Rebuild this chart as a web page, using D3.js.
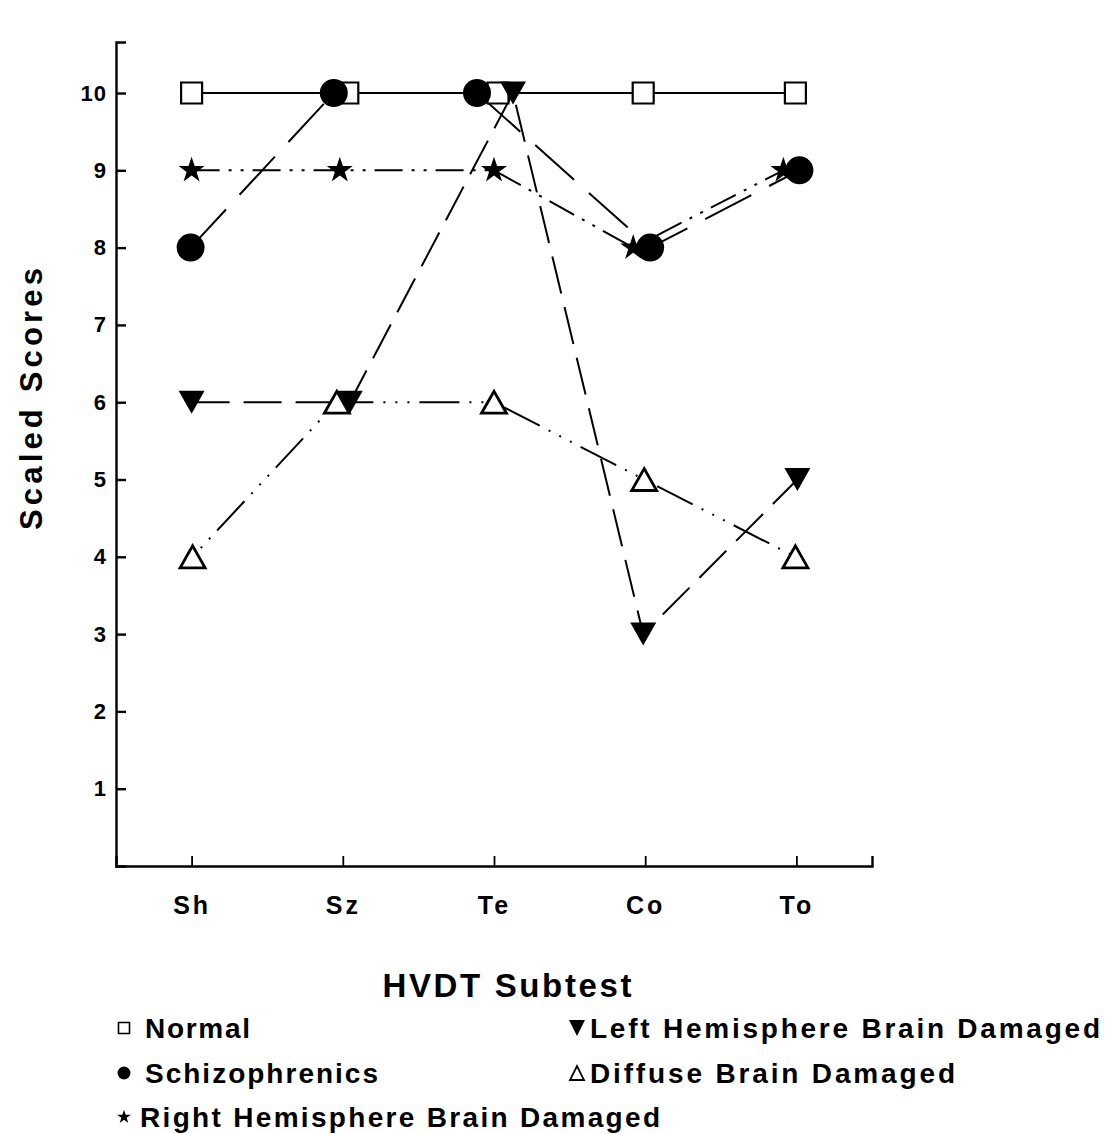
<!DOCTYPE html>
<html>
<head>
<meta charset="utf-8">
<script src="https://cdn.jsdelivr.net/npm/d3@7"></script>
<style>
  body { margin: 0; background: #fff; }
  svg { display: block; }
  text { font-family: "Liberation Sans", Arial, Helvetica, sans-serif; font-weight: bold; fill: #000; }
</style>
</head>
<body>
<div id="chart"></div>
<script>
// data
const categories = ["Sh", "Sz", "Te", "Co", "To"];
const normal = [10, 10, 10, 10, 10];
const schizophrenics = [8, 10, 10, 8, 9];
const rightHemisphere = [9, 9, 9, 8, 9];
const leftHemisphere = [6, 6, 10, 3, 5];
const diffuse = [4, 6, 6, 5, 4];
const yTicks = [1, 2, 3, 4, 5, 6, 7, 8, 9, 10];
const yTitle = "Scaled Scores";
const xTitle = "HVDT Subtest";

const width = 1109, height = 1134;
const margin = {left: 116, right: 237, top: 42, bottom: 268};

const svg = d3.select("#chart").append("svg")
    .attr("width", width)
    .attr("height", height);
svg.append("rect").attr("width", width).attr("height", height).attr("fill", "#fff");

const x = d3.scalePoint()
    .domain(categories)
    .range([margin.left, width - margin.right])
    .padding(0.5);
const y = d3.scaleLinear()
    .domain([0, 10.66])
    .range([height - margin.bottom, margin.top]);

// markers (drawn as paths centred on 0,0)
function square(s) { return "M" + (-s/2) + "," + (-s/2) + "h" + s + "v" + s + "h" + (-s) + "Z"; }
function triDown(w, h) { return "M" + (-w/2) + "," + (-h/2) + "L" + (w/2) + "," + (-h/2) + "L0," + (h/2) + "Z"; }
function triUp(w, h) { return "M" + (-w/2) + "," + (h/2) + "L" + (w/2) + "," + (h/2) + "L0," + (-h/2) + "Z"; }

// small hand nudges the original figure used to keep markers apart (px)
const series = [
  {name: "Normal", values: normal, dash: null, nudge: [0, 5, 4, -2, -1],
   marker: {d: square(21), fill: "#fff", sw: 2.2}, legend: {d: square(11), fill: "#fff", sw: 1.6}},
  {name: "Right Hemisphere Brain Damaged", values: rightHemisphere, dash: "28,9,3,9,3,9", nudge: [0, -3, 0, -12, -13],
   marker: {d: d3.symbol(d3.symbolStar, 210)(), fill: "#000", sw: 0}, legend: {d: d3.symbol(d3.symbolStar, 60)(), fill: "#000", sw: 0}},
  {name: "Schizophrenics", values: schizophrenics, dash: "52,20", nudge: [-1, -9, -17, 5, 3],
   marker: {d: d3.symbol(d3.symbolCircle, 615)(), fill: "#000", sw: 0}, legend: {d: d3.symbol(d3.symbolCircle, 130)(), fill: "#000", sw: 0}},
  {name: "Diffuse Brain Damaged", values: diffuse, dash: "2,10,2,10,2,10,40,10", nudge: [1, -6, 0, -1, -1],
   marker: {d: triUp(25, 22), fill: "#fff", sw: 2.8}, legend: {d: triUp(14, 14), fill: "#fff", sw: 1.8}},
  {name: "Left Hemisphere Brain Damaged", values: leftHemisphere, dash: "38,14", nudge: [0, 7, 19, -2, 1],
   marker: {d: triDown(26, 23), fill: "#000", sw: 0}, legend: {d: triDown(16, 16), fill: "#000", sw: 0}}
];

// axes
const yAxis = d3.axisLeft(y).tickValues(yTicks).tickSize(-10).tickSizeOuter(-10).tickPadding(9);
const gy = svg.append("g")
    .attr("transform", "translate(" + margin.left + ",0)")
    .call(yAxis);
gy.select(".domain").attr("stroke-width", 2.4);
gy.selectAll(".tick line").attr("stroke-width", 2.4);
gy.selectAll(".tick text")
    .attr("font-size", 22)
    .attr("font-family", null)
    .attr("letter-spacing", 1);

const xAxis = d3.axisBottom(x).tickSize(-10).tickSizeOuter(-10).tickPadding(28);
const gx = svg.append("g")
    .attr("transform", "translate(0," + y(0) + ")")
    .call(xAxis);
gx.select(".domain").attr("stroke-width", 2.4);
gx.selectAll(".tick line").attr("stroke-width", 1.8);
gx.selectAll(".tick text")
    .attr("font-size", 25)
    .attr("font-family", null)
    .attr("letter-spacing", 3)
    .attr("dy", "0.8em");

// axis titles
svg.append("text")
    .attr("transform", "translate(42,399) rotate(-90)")
    .attr("text-anchor", "middle")
    .attr("font-size", 31)
    .attr("textLength", 262)
    .attr("lengthAdjust", "spacing")
    .text(yTitle);

svg.append("text")
    .attr("x", 507)
    .attr("y", 997)
    .attr("text-anchor", "middle")
    .attr("font-size", 33)
    .attr("textLength", 249)
    .attr("lengthAdjust", "spacing")
    .text(xTitle);

// lines
const line = d3.line()
    .x(d => x(d.cat) + d.dx)
    .y(d => y(d.v));

series.forEach(s => {
  const pts = categories.map((c, i) => ({cat: c, v: s.values[i], dx: s.nudge[i]}));
  s.pts = pts;
  svg.append("path")
      .datum(pts)
      .attr("d", line)
      .attr("fill", "none")
      .attr("stroke", "#000")
      .attr("stroke-width", 2)
      .attr("stroke-dasharray", s.dash);
});

// markers on top of the lines
series.forEach(s => {
  svg.append("g").selectAll("path")
      .data(s.pts)
      .enter()
      .append("path")
      .attr("transform", d => "translate(" + (x(d.cat) + d.dx) + "," + y(d.v) + ")")
      .attr("d", s.marker.d)
      .attr("fill", s.marker.fill)
      .attr("stroke", "#000")
      .attr("stroke-width", s.marker.sw)
      .attr("stroke-linejoin", "miter");
});

// legend
const legendRows = [
  {name: "Normal", col: 0, row: 0, len: 105},
  {name: "Schizophrenics", col: 0, row: 1, len: 233},
  {name: "Right Hemisphere Brain Damaged", col: 0, row: 2, len: 520},
  {name: "Left Hemisphere Brain Damaged", col: 1, row: 0, len: 510},
  {name: "Diffuse Brain Damaged", col: 1, row: 1, len: 365}
];
const legendX = [124, 577];
const legendY = [1038, 1083, 1127];

legendRows.forEach(r => {
  const s = series.find(d => d.name === r.name);
  const g = svg.append("g")
      .attr("transform", "translate(" + legendX[r.col] + "," + legendY[r.row] + ")");
  g.append("path")
      .attr("transform", "translate(0,-10)")
      .attr("d", s.legend.d)
      .attr("fill", s.legend.fill)
      .attr("stroke", "#000")
      .attr("stroke-width", s.legend.sw);
  g.append("text")
      .attr("x", r.col === 0 ? (r.row === 2 ? 16 : 21) : 13)
      .attr("font-size", 28)
      .attr("textLength", r.len)
      .attr("lengthAdjust", "spacing")
      .text(r.name);
});
</script>
</body>
</html>
